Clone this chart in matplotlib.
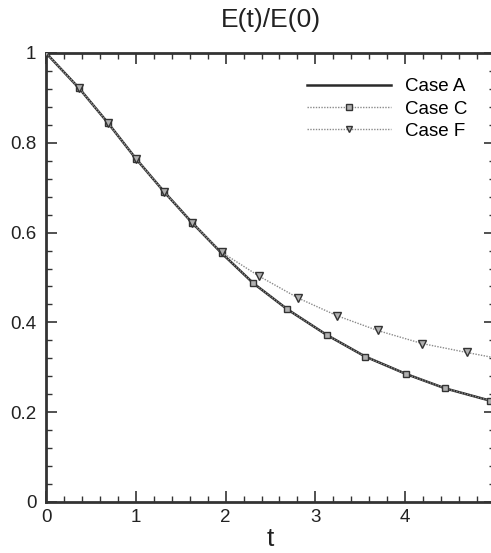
import matplotlib
matplotlib.use("Agg")
import matplotlib.pyplot as plt
from matplotlib.ticker import MultipleLocator

plt.rcParams['font.family'] = ['Liberation Sans', 'DejaVu Sans']

# Case A (solid line)
t_a = [0.0, 0.371, 0.687, 1.0, 1.315, 1.627, 1.957, 2.31, 2.689, 3.127, 3.554, 4.011, 4.446, 4.94, 5.0]
e_a = [1.0, 0.921, 0.845, 0.765, 0.691, 0.622, 0.554, 0.487, 0.429, 0.372, 0.324, 0.285, 0.253, 0.226, 0.223]

# Case C (squares)
t_c = [0.0, 0.371, 0.687, 1.0, 1.315, 1.627, 1.957, 2.31, 2.689, 3.127, 3.554, 4.011, 4.446, 4.94]
e_c = [1.0, 0.921, 0.845, 0.765, 0.691, 0.622, 0.554, 0.487, 0.429, 0.372, 0.324, 0.285, 0.253, 0.226]

# Case F (down triangles)
t_f = [0.0, 0.371, 0.687, 1.0, 1.315, 1.627, 1.957, 2.373, 2.81, 3.239, 3.692, 4.186, 4.687, 5.0]
e_f = [1.0, 0.921, 0.845, 0.765, 0.691, 0.622, 0.556, 0.503, 0.454, 0.415, 0.382, 0.353, 0.333, 0.321]

labels = ["Case A", "Case C", "Case F"]
title = "E(t)/E(0)"
xlabel = "t"

fig = plt.figure(figsize=(4.91, 5.53), dpi=100)
W, H = 491, 553
x0, x1 = 46, 495
ytop, ybot = 53, 502
ax = fig.add_axes([x0 / W, (H - ybot) / H, (x1 - x0) / W, (ybot - ytop) / H])

ax.plot(t_c, e_c, linestyle=(0, (1, 1)), color='#8a8a8a', lw=1.0,
        marker='s', markersize=4.5, markerfacecolor='#b0b0b0', markeredgecolor='#333333',
        markeredgewidth=1.0, label=labels[1], zorder=3)
ax.plot(t_f, e_f, linestyle=(0, (1, 1)), color='#8a8a8a', lw=1.0,
        marker='v', markersize=5.5, markerfacecolor='#b0b0b0', markeredgecolor='#333333',
        markeredgewidth=1.0, label=labels[2], zorder=3)
ax.plot(t_a, e_a, linestyle='-', color='#2a2a2a', lw=1.8, label=labels[0], zorder=2)

ax.set_xlim(0, 5)
ax.set_ylim(0, 1)
ax.xaxis.set_major_locator(MultipleLocator(1))
ax.xaxis.set_minor_locator(MultipleLocator(0.2))
ax.yaxis.set_major_locator(MultipleLocator(0.2))
ax.yaxis.set_minor_locator(MultipleLocator(0.04))
ax.xaxis.set_major_formatter(plt.FuncFormatter(lambda v, p: f"{v:g}"))
ax.yaxis.set_major_formatter(plt.FuncFormatter(lambda v, p: f"{v:g}"))

ax.tick_params(which='both', direction='in', top=True, right=True, colors='#333333', labelcolor='#222222')
ax.tick_params(which='major', length=8, width=1.2, labelsize=13.5)
ax.tick_params(which='minor', length=4, width=1.0)
ax.tick_params(axis='y', pad=7)
ax.tick_params(axis='x', pad=5)
for s in ax.spines.values():
    s.set_linewidth(2.0)
    s.set_color('#333333')

ax.set_title(title, fontsize=19, pad=19, color='#222222')
ax.set_xlabel(xlabel, fontsize=19, labelpad=1, color='#222222')

h, l = ax.get_legend_handles_labels()
order = [2, 0, 1]
leg = fig.legend([h[i] for i in order], [l[i] for i in order], loc='upper left',
                 bbox_to_anchor=(307 / W, (H - 78) / H), bbox_transform=fig.transFigure,
                 frameon=False, fontsize=13.5, borderpad=0, borderaxespad=0,
                 handlelength=4.5, handletextpad=0.75, labelspacing=0.28, markerscale=0.9)

fig.savefig("out.png", dpi=100)
